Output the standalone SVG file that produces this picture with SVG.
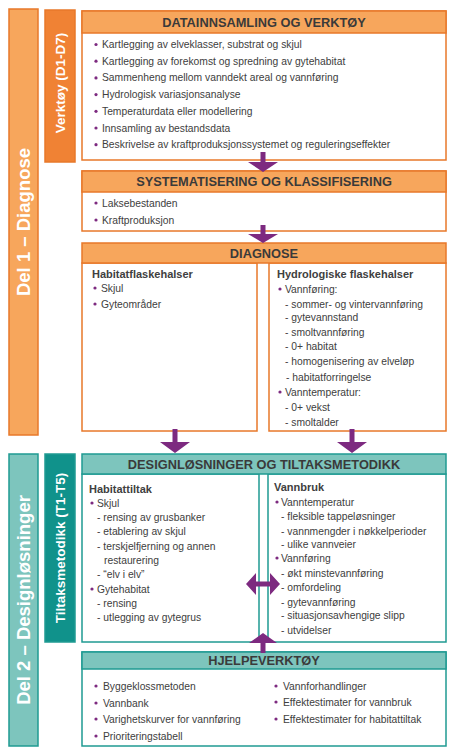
<svg xmlns="http://www.w3.org/2000/svg" width="454" height="756" viewBox="0 0 454 756">
<style>
.ob{fill:#F7A65C;stroke:#E8782A;stroke-width:1.5}
.od{fill:#F08234;stroke:#E8782A;stroke-width:1.5}
.ow{fill:#FFFFFF;stroke:#E8782A;stroke-width:1.5}
.oh{fill:#F7A65C;stroke:#E8782A;stroke-width:1.5}
.tb{fill:#7DC5BD;stroke:#1F9A92;stroke-width:1.5}
.td{fill:#10928B;stroke:#1F9A92;stroke-width:1.5}
.tw{fill:#FFFFFF;stroke:#1F9A92;stroke-width:1.5}
.th{fill:#7DC5BD;stroke:#1F9A92;stroke-width:1.5}
.side{font-family:"Liberation Sans",Arial,sans-serif;font-weight:bold;fill:#FFFFFF;text-anchor:middle}
.big{font-size:18.5px}
.mid{font-size:13.5px}
.hd{font-family:"Liberation Sans",Arial,sans-serif;font-weight:bold;font-size:12.8px;fill:#3A3A3A;text-anchor:middle}
.t{font-family:"Liberation Sans",Arial,sans-serif;font-size:10.3px;fill:#404040}
.sb{font-family:"Liberation Sans",Arial,sans-serif;font-size:11px;font-weight:bold;fill:#404040}
.bu{fill:#7D2A80}
.ar{fill:#7D2A80}
</style>

<g id="del1">
<rect class="ob" x="9" y="9" width="29" height="426"/>
<text class="side big" transform="translate(23.5,222) rotate(-90)" x="0" y="6.5">Del 1 – Diagnose</text>
</g>

<g id="verktoy">
<rect class="od" x="45" y="10" width="30" height="152"/>
<text class="side mid" transform="translate(60,83) rotate(-90)" x="0" y="5">Verktøy (D1-D7)</text>
</g>

<g id="datainnsamling">
<rect class="ow" x="82" y="11" width="364" height="149"/>
<rect class="oh" x="82" y="11" width="364" height="22"/>
<text class="hd" x="264" y="26.5">DATAINNSAMLING OG VERKTØY</text>
<g class="bu">
<circle cx="96" cy="44.5" r="1.6"/><circle cx="96" cy="61.2" r="1.6"/><circle cx="96" cy="77.9" r="1.6"/><circle cx="96" cy="94.6" r="1.6"/><circle cx="96" cy="111.3" r="1.6"/><circle cx="96" cy="128" r="1.6"/><circle cx="96" cy="144.7" r="1.6"/>
</g>
<text class="t" x="102" y="48">Kartlegging av elveklasser, substrat og skjul</text>
<text class="t" x="102" y="64.7">Kartlegging av forekomst og spredning av gytehabitat</text>
<text class="t" x="102" y="81.4">Sammenheng mellom vanndekt areal og vannføring</text>
<text class="t" x="102" y="98.1">Hydrologisk variasjonsanalyse</text>
<text class="t" x="102" y="114.8">Temperaturdata eller modellering</text>
<text class="t" x="102" y="131.5">Innsamling av bestandsdata</text>
<text class="t" x="102" y="148.2">Beskrivelse av kraftproduksjonssystemet og reguleringseffekter</text>
</g>

<g id="systematisering">
<rect class="ow" x="82" y="171" width="364" height="60"/>
<rect class="oh" x="82" y="171" width="364" height="21"/>
<text class="hd" x="264" y="185.5">SYSTEMATISERING OG KLASSIFISERING</text>
<circle class="bu" cx="96" cy="203" r="1.6"/><circle class="bu" cx="96" cy="220" r="1.6"/>
<text class="t" x="102" y="206.5">Laksebestanden</text>
<text class="t" x="102" y="223.5">Kraftproduksjon</text>
</g>

<g id="diagnose">
<rect class="ow" x="82" y="263" width="175" height="168"/>
<rect class="ow" x="269" y="263" width="177" height="168"/>
<rect class="oh" x="82" y="243" width="364" height="20"/>
<text class="hd" x="264" y="257.5">DIAGNOSE</text>
<text class="sb" x="92" y="278">Habitatflaskehalser</text>
<circle class="bu" cx="95" cy="288" r="1.6"/><circle class="bu" cx="95" cy="304" r="1.6"/>
<text class="t" x="101" y="291.5">Skjul</text>
<text class="t" x="101" y="307.5">Gyteområder</text>
<text class="sb" x="277" y="278">Hydrologiske flaskehalser</text>
<circle class="bu" cx="280" cy="289" r="1.6"/><circle class="bu" cx="280" cy="392" r="1.6"/>
<text class="t" x="285" y="292.5">Vannføring:</text>
<text class="t" x="285" y="307.5">- sommer- og vintervannføring</text>
<text class="t" x="285" y="320.5">- gytevannstand</text>
<text class="t" x="285" y="335.5">- smoltvannføring</text>
<text class="t" x="285" y="349.5">- 0+ habitat</text>
<text class="t" x="285" y="364.5">- homogenisering av elveløp</text>
<text class="t" x="286" y="380.5">- habitatforringelse</text>
<text class="t" x="285" y="395.5">Vanntemperatur:</text>
<text class="t" x="285" y="410.5">- 0+ vekst</text>
<text class="t" x="285" y="425.5">- smoltalder</text>
</g>

<g id="del2">
<rect class="tb" x="9" y="454" width="29" height="292"/>
<text class="side big" transform="translate(23.5,600) rotate(-90)" x="0" y="6.5">Del 2 – Designløsninger</text>
</g>

<g id="tiltaksmetodikk">
<rect class="td" x="45" y="454" width="30" height="188"/>
<text class="side mid" transform="translate(60,548) rotate(-90)" x="0" y="5">Tiltaksmetodikk (T1-T5)</text>
</g>

<g id="designlosninger">
<rect class="tw" x="82" y="474" width="177" height="168"/>
<rect class="tw" x="268" y="474" width="178" height="168"/>
<rect class="th" x="82" y="454" width="364" height="20"/>
<text class="hd" x="264" y="468.5">DESIGNLØSNINGER OG TILTAKSMETODIKK</text>
<text class="sb" x="89" y="493">Habitattiltak</text>
<circle class="bu" cx="92" cy="503" r="1.6"/><circle class="bu" cx="92" cy="589" r="1.6"/>
<text class="t" x="97" y="506.5">Skjul</text>
<text class="t" x="97" y="520.5">- rensing av grusbanker</text>
<text class="t" x="97" y="534.5">- etablering av skjul</text>
<text class="t" x="97" y="549.5">- terskjelfjerning og annen</text>
<text class="t" x="104" y="563.5">restaurering</text>
<text class="t" x="97" y="577.5">- “elv i elv”</text>
<text class="t" x="97" y="592.5">Gytehabitat</text>
<text class="t" x="97" y="606.5">- rensing</text>
<text class="t" x="97" y="620.5">- utlegging av gytegrus</text>
<text class="sb" x="274" y="491">Vannbruk</text>
<circle class="bu" cx="277" cy="502" r="1.6"/><circle class="bu" cx="277" cy="558" r="1.6"/>
<text class="t" x="281" y="505.5">Vanntemperatur</text>
<text class="t" x="281" y="519.5">- fleksible tappeløsninger</text>
<text class="t" x="281" y="534.5">- vannmengder i nøkkelperioder</text>
<text class="t" x="281" y="547.5">- ulike vannveier</text>
<text class="t" x="281" y="561.5">Vannføring</text>
<text class="t" x="281" y="576.5">- økt minstevannføring</text>
<text class="t" x="281" y="590.5">- omfordeling</text>
<text class="t" x="281" y="605.5">- gytevannføring</text>
<text class="t" x="281" y="618.5">- situasjonsavhengige slipp</text>
<text class="t" x="281" y="633.5">- utvidelser</text>
</g>

<g id="hjelpeverktoy">
<rect class="tw" x="82" y="652" width="364" height="94"/>
<rect class="th" x="82" y="652" width="364" height="17"/>
<text class="hd" x="264" y="665">HJELPEVERKTØY</text>
<g class="bu">
<circle cx="96" cy="686" r="1.6"/><circle cx="96" cy="703" r="1.6"/><circle cx="96" cy="719" r="1.6"/><circle cx="96" cy="736" r="1.6"/>
<circle cx="276" cy="686" r="1.6"/><circle cx="276" cy="702" r="1.6"/><circle cx="276" cy="719" r="1.6"/>
</g>
<text class="t" x="103" y="689.5">Byggeklossmetoden</text>
<text class="t" x="103" y="706.5">Vannbank</text>
<text class="t" x="103" y="722.5">Varighetskurver for vannføring</text>
<text class="t" x="103" y="739.5">Prioriteringstabell</text>
<text class="t" x="283" y="689.5">Vannforhandlinger</text>
<text class="t" x="283" y="705.5">Effektestimater for vannbruk</text>
<text class="t" x="283" y="722.5">Effektestimater for habitattiltak</text>
</g>

<g id="connectors">
<polygon class="ar" points="260.5,152 265.5,152 265.5,162 278,162 263,172 248,162 260.5,162"/>
<polygon class="ar" points="260.5,225 265.5,225 265.5,234 278,234 263,243 248,234 260.5,234"/>
<polygon class="ar" points="172.5,429 177.5,429 177.5,442 190,442 175,453 160,442 172.5,442"/>
<polygon class="ar" points="349.5,429 354.5,429 354.5,442 367,442 352,453 337,442 349.5,442"/>
<polygon class="ar" points="260.5,653 265.5,653 265.5,643 277,643 263,633 249,643 260.5,643"/>
<polygon class="ar" points="246,584 256,573 256,581.5 270,581.5 270,573 280,584 270,595 270,586.5 256,586.5 256,595"/>
</g>
</svg>
